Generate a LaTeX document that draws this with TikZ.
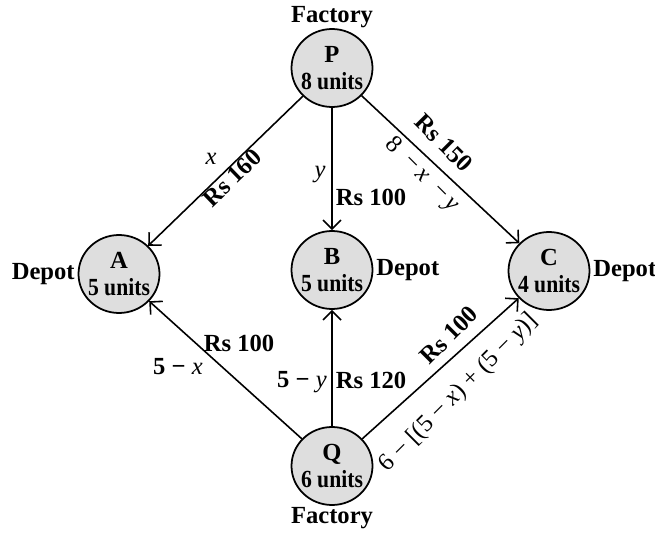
\documentclass[tikz,border=0pt]{standalone}
\usepackage{fontspec}
\setmainfont{Liberation Serif}
\usepackage{tikz}
\usetikzlibrary{positioning, arrows.meta, shapes.geometric}

\tikzset{
  site/.style={ellipse, draw, line width=1pt, fill=black!13, minimum width=1.62cm, minimum height=1.56cm, inner sep=0pt, align=center},
  ship/.style={line width=0.9pt, -{Straight Barb[length=1.8mm, width=3.6mm, line width=0.9pt]}},
  flow/.style={font=\fontsize{14}{16}\selectfont\mdseries}
}
\newcommand{\sitetext}[2]{\makebox[0pt]{#1}\\[-1pt]\makebox[0pt]{\scalebox{0.88}[1]{#2}}}

\begin{document}
\begin{tikzpicture}[font=\fontsize{14}{16}\selectfont\bfseries, every label/.style={inner sep=1.5pt}]
			\useasboundingbox (0,0) rectangle (13.1,-10.74);
			% Cut-off caption mark
			\node[anchor=east, font=\fontsize{14}{16}\selectfont\mdseries] (cut) at (0.12,-0.32) {)};
			
			% Factories
			\node[site, label={[label distance=-1.5pt]above:Factory}] (P) at (6.64,-1.36) {\sitetext{P}{8 units}};
			\node[site, label={[label distance=-1pt]below:Factory}] (Q) at (6.64,-9.32) {\sitetext{Q}{6 units}};
			
			% Depots
			\node[site, label={left:Depot}] (A) at (2.38,-5.48) {\sitetext{A}{5 units}};
			\node[site, label={right:Depot}] (B) at (6.64,-5.40) {\sitetext{B}{5 units}};
			\node[site, label={right:Depot}] (C) at (10.98,-5.42) {\sitetext{C}{4 units}};
			
			% Shipments from P
			\draw[ship] (P) -- (A);
			\draw[ship] (P) -- (B);
			\draw[ship] (P) -- (C);
			
			% Shipments from Q
			\draw[ship] (Q) -- (A);
			\draw[ship] (Q) -- (B);
			\draw[ship] (Q) -- (C);
			
			% Costs and amounts on P's roads
			\node[flow] (xPA) at (4.22,-3.18) {\textit{x}};
			\node[rotate=44] (cPA) at (4.64,-3.56) {Rs 160};
			\node[flow] (yPB) at (6.40,-3.50) {\textit{y}};
			\node (cPB) at (7.42,-3.94) {Rs 100};
			\node[rotate=-45] (cPC) at (8.88,-2.86) {Rs 150};
			\node[flow, rotate=-45] (xPC) at (8.44,-3.50) {8\enspace −\,\textit{x}\enspace −\,\textit{y}};
			
			% Costs and amounts on Q's roads
			\node (cQA) at (4.78,-6.86) {Rs 100};
			\node (xQA) at (3.56,-7.34) {5 − {\mdseries\textit{x}}};
			\node (xQB) at (6.04,-7.64) {5 − {\mdseries\textit{y}}};
			\node (cQB) at (7.42,-7.60) {Rs 120};
			\node[rotate=45] (cQC) at (8.98,-6.70) {Rs 100};
			\node[flow, rotate=45] (xQC) at (9.18,-7.86) {6 − [(5 − \textit{x}) + (5 − \textit{y})]};
			
		\end{tikzpicture}
\end{document}
